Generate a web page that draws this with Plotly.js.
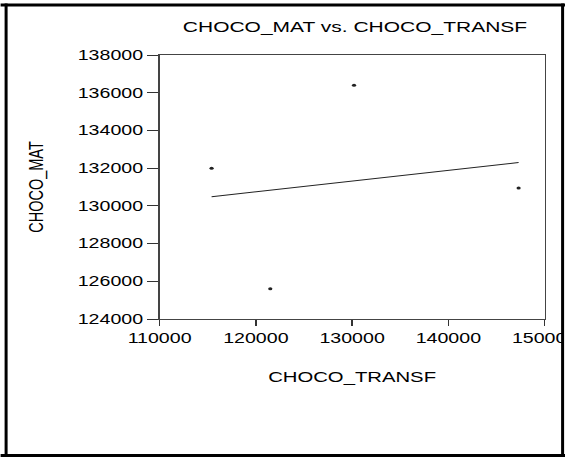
<!DOCTYPE html>
<html>
<head>
<meta charset="utf-8">
<script src="https://cdn.plot.ly/plotly-3.0.1.min.js"></script>
<style>
  html, body { margin: 0; padding: 0; overflow: hidden; background: #fff; }
  #wrap { width: 565px; height: 457px; overflow: hidden; position: relative; }
  #chart { position: absolute; left: 0; top: 0; transform-origin: 0 0; }
</style>
</head>
<body>
<div id="wrap"><div id="chart"></div></div>
<script>
// ---- data ----
const choco_transf = [115400, 121500, 130200, 147300];
const choco_mat    = [132000, 125600, 136400, 130950];
const xTickVals = [110000, 120000, 130000, 140000, 150000];
const yTickVals = [124000, 126000, 128000, 130000, 132000, 134000, 136000, 138000];
const chartTitle = 'CHOCO_MAT vs. CHOCO_TRANSF';
const xTitle = 'CHOCO_TRANSF';
const yTitle = 'CHOCO_MAT';

// least-squares fit line (computed from the data)
function fit(x, y) {
  const n = x.length;
  const mx = x.reduce((a, b) => a + b, 0) / n;
  const my = y.reduce((a, b) => a + b, 0) / n;
  let sxy = 0, sxx = 0;
  for (let i = 0; i < n; i++) { sxy += (x[i] - mx) * (y[i] - my); sxx += (x[i] - mx) ** 2; }
  const b = sxy / sxx, a = my - b * mx;
  const x0 = Math.min(...x), x1 = Math.max(...x);
  return { x: [x0, x1], y: [a + b * x0, a + b * x1] };
}
const line = fit(choco_transf, choco_mat);

// ---- geometry (the reference is horizontally stretched) ----
const S = 1.4;                 // horizontal stretch
const W = 565 / S, H = 457;
const Lr = 159, Rr = 544, T = 55, B = 319;   // plot frame in reference pixels
const L = Lr / S, R = Rr / S;
const px = v => (v / S - L) / (R - L);       // reference x px -> paper
const py = v => (B - v) / (B - T);           // reference y px -> paper

document.getElementById('chart').style.transform = 'scale(' + S + ',1)';

const font = 'Arial, "Liberation Sans", sans-serif';

const traces = [
  {
    x: choco_transf, y: choco_mat, type: 'scatter', mode: 'markers',
    marker: { size: 3, color: '#222' }, hoverinfo: 'skip'
  },
  {
    x: line.x, y: line.y, type: 'scatter', mode: 'lines',
    line: { color: '#222', width: 1 }, hoverinfo: 'skip'
  }
];

const layout = {
  width: W, height: H,
  margin: { l: L, r: W - R, t: T, b: H - B, pad: 0 },
  paper_bgcolor: '#fff', plot_bgcolor: '#fff',
  showlegend: false,
  font: { family: font, color: '#000', size: 14 },
  title: {
    text: chartTitle, font: { family: font, size: 15, color: '#000' },
    xref: 'container', x: 355 / 565, xanchor: 'center',
    yref: 'container', y: 1 - 27 / 457, yanchor: 'middle'
  },
  xaxis: {
    range: [110000, 150000], tickvals: xTickVals, tickformat: 'd',
    ticks: 'outside', ticklen: 6, tickwidth: 1, tickcolor: '#333',
    showline: true, mirror: true, linecolor: '#444', linewidth: 1,
    showgrid: false, zeroline: false, automargin: false,
    ticklabeloverflow: 'allow',
    tickfont: { family: font, size: 14, color: '#000' },
    title: { text: xTitle, font: { family: font, size: 14.5, color: '#000' }, standoff: 27 }
  },
  yaxis: {
    range: [124000, 138000], tickvals: yTickVals, tickformat: 'd',
    ticks: 'outside', ticklen: 8, tickwidth: 1, tickcolor: '#333',
    showline: true, mirror: true, linecolor: '#444', linewidth: 1,
    showgrid: false, zeroline: false, automargin: false,
    ticklabeloverflow: 'allow',
    tickfont: { family: font, size: 14, color: '#000' },
    title: { text: yTitle, font: { family: font, size: 14.5, color: '#000' }, standoff: 20 }
  },
  shapes: [
    // white strip clipping overflow at right
    { type: 'rect', xref: 'paper', yref: 'paper', x0: px(562), x1: px(570), y0: py(-5), y1: py(465),
      fillcolor: '#fff', line: { width: 0 }, layer: 'above' },
    // outer frame
    { type: 'line', xref: 'paper', yref: 'paper', x0: px(0), x1: px(565), y0: py(5), y1: py(5),
      line: { color: '#000', width: 3 }, layer: 'above' },
    { type: 'line', xref: 'paper', yref: 'paper', x0: px(0), x1: px(565), y0: py(455.5), y1: py(455.5),
      line: { color: '#000', width: 3 }, layer: 'above' },
    { type: 'line', xref: 'paper', yref: 'paper', x0: px(5.5), x1: px(5.5), y0: py(3.5), y1: py(457),
      line: { color: '#000', width: 3 / S }, layer: 'above' },
    { type: 'line', xref: 'paper', yref: 'paper', x0: px(562), x1: px(562), y0: py(3.5), y1: py(457),
      line: { color: '#000', width: 3 / S }, layer: 'above' }
  ]
};

Plotly.newPlot('chart', traces, layout, { staticPlot: true, displayModeBar: false, responsive: false });
</script>
</body>
</html>
